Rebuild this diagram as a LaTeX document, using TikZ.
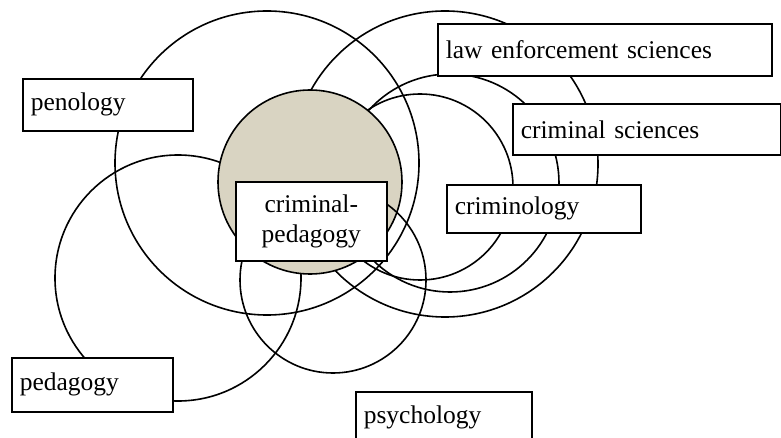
\documentclass[tikz,border=0pt]{standalone}
\usepackage{fontspec}
\setmainfont{Liberation Serif}
\definecolor{cpshade}{RGB}{217,212,194}

\begin{document}
\begin{tikzpicture}[x=1pt,y=-1pt,
    ring/.style={circle, draw, line width=1.6pt, inner sep=0pt},
    field/.style={rectangle, draw, fill=white, line width=1.6pt, anchor=north west, inner xsep=8pt, inner ysep=0pt, align=left, font=\fontsize{25.5}{30}\selectfont}]
    \useasboundingbox (0,0) rectangle (781,438);
    % circles
    \node[ring, minimum size=304pt] (penC) at (267,163) {};
    \node[ring, minimum size=246pt] (pedC) at (178,278) {};
    \node[ring, minimum size=306pt] (lawC) at (445,164) {};
    \node[ring, minimum size=218pt] (sciC) at (450,183) {};
    \node[ring, minimum size=186pt] (crmC) at (420,187) {};
    \node[ring, fill=cpshade, minimum size=184pt] (cpC) at (310,182) {};
    \node[ring, minimum size=186pt] (psyC) at (333,280) {};
    % labels
    \node[field, text width=154pt, minimum height=52pt] (pen) at (22,78) {penology};
    \node[field, text width=318pt, minimum height=52pt] (law) at (437,23) {law enforcement sciences};
    \node[field, text width=252pt, minimum height=51pt] (sci) at (512,103) {criminal sciences};
    \node[field, text width=178pt, minimum height=48pt] (crm) at (446,184) {criminology};
    \node[field, text width=135pt, minimum height=79pt, align=center] (cp) at (235,181) {criminal-\\pedagogy};
    \node[field, text width=145pt, minimum height=54pt] (ped) at (11,357) {pedagogy};
    \node[field, text width=160pt, minimum height=52pt] (psy) at (355,391) {psychology};
\end{tikzpicture}
\end{document}
